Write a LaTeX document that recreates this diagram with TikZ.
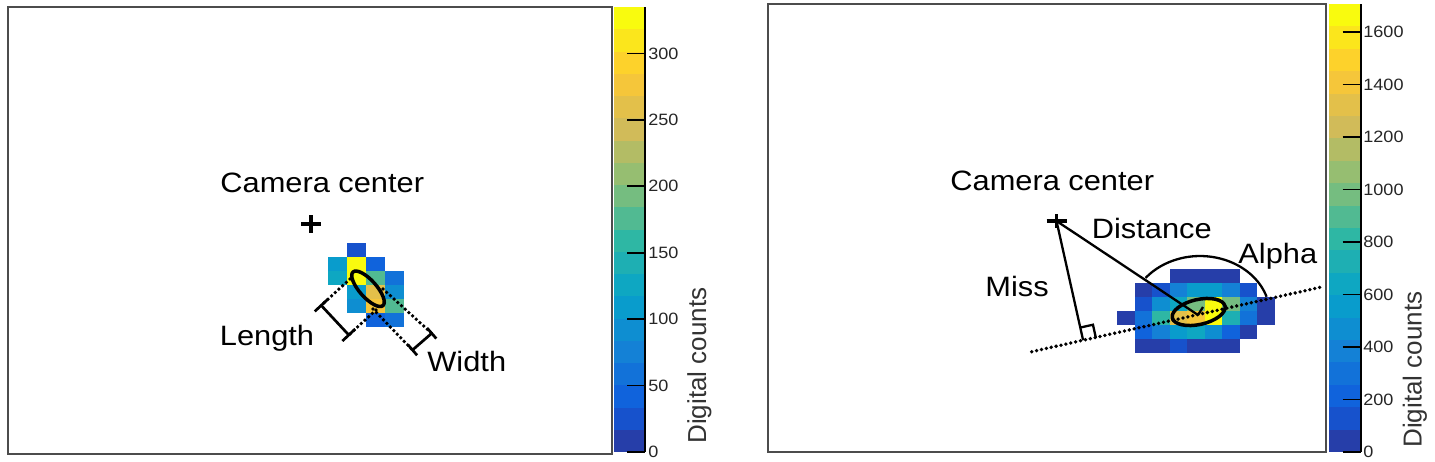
\documentclass[tikz,border=0pt]{standalone}
\usepackage{fontspec}
\setmainfont{Liberation Sans}
\usetikzlibrary{calc}
\definecolor{b0}{HTML}{263EA9}
\definecolor{b1}{HTML}{1752CC}
\definecolor{b2}{HTML}{1063DC}
\definecolor{b3}{HTML}{1272D9}
\definecolor{b4}{HTML}{1481D6}
\definecolor{b5}{HTML}{0E8ED1}
\definecolor{b6}{HTML}{099CCC}
\definecolor{b7}{HTML}{0EA7C2}
\definecolor{b8}{HTML}{1EAFB3}
\definecolor{b9}{HTML}{2EB7A4}
\definecolor{b10}{HTML}{51BA92}
\definecolor{b11}{HTML}{75BD80}
\definecolor{b12}{HTML}{96BE71}
\definecolor{b13}{HTML}{B3BC65}
\definecolor{b14}{HTML}{D1BB59}
\definecolor{b15}{HTML}{E3C04A}
\definecolor{b16}{HTML}{F5C63A}
\definecolor{b17}{HTML}{FDD22B}
\definecolor{b18}{HTML}{FBE61C}
\definecolor{b19}{HTML}{F9FB0E}
\newcommand{\wide}[1]{\scalebox{1.1}[1]{#1}}
\begin{document}
\begin{tikzpicture}[x=0.5pt,y=-0.5pt,
  frame/.style={draw=black!70, line width=0.8pt},
  lbl/.style={inner sep=0pt, anchor=base west, font=\fontsize{14pt}{16pt}\selectfont},
  ticklbl/.style={inner sep=0pt, anchor=west, text=black!85, font=\fontsize{8.2pt}{10pt}\selectfont},
  ztitle/.style={inner sep=0pt, anchor=base west, rotate=90, text=black!80, font=\fontsize{13pt}{15pt}\selectfont},
  tk/.style={line width=0.9pt},
  dots/.style={line width=1.9pt, dash pattern=on 0pt off 2.5pt, line cap=round},
  brk/.style={line width=1.35pt},
  ell/.style={line width=1.75pt},
  thinl/.style={line width=1.15pt},
  cross/.style={line width=1.9pt}]
\fill[white] (0,0) rectangle (1435,461);
\useasboundingbox (0,0) rectangle (1435,461);

% ================= LEFT PANEL =================
\draw[frame] (8,7) rectangle (612,454);
% colour bar
\foreach \i in {0,...,19}
  \fill[b\i] (614,{452-22.25*\i}) rectangle (645,{452-22.25*(\i+1)});
\draw[tk] (645,7) -- (645,452);
\foreach \v in {0,50,...,300}
  \draw[tk] (627,{452-1.3284*\v}) -- (645,{452-1.3284*\v});
\foreach \v in {0,50,...,300}
  \node[ticklbl] (ltl\v) at (648,{452-1.3284*\v}) {\wide{\v}};
\node[ztitle] (lzt) at (706,444) {Digital counts};

% pixels
\foreach \c/\r/\i in {1/0/1, 0/1/6, 1/1/19, 2/1/2, 0/2/7, 1/2/19, 2/2/10, 3/2/3,
                      1/3/6, 2/3/15, 3/3/5, 1/4/5, 2/4/16, 3/4/10, 2/5/2, 3/5/3}
  \fill[b\i] ({328.3+19*\c},{243.3+14*\r}) rectangle ++(19,14);

% camera centre
\coordinate (pL) at (311,224);
\draw[cross] ([xshift=-5pt]pL) -- ([xshift=5pt]pL);
\draw[cross] ([yshift=4.5pt]pL) -- ([yshift=-4.5pt]pL);
\node[lbl] (camL) at (220,192) {\wide{Camera center}};

% ellipse
\coordinate (LC) at (368,288.8);
\draw[ell, rotate around={-48.3:(LC)}] (LC) ellipse [x radius=11.25pt, y radius=4.25pt];

% length
\coordinate (lds1) at (350,279);
\coordinate (lds2) at (376,310);
\coordinate (lenT) at (321.2,305.4);
\coordinate (lenB) at (348.8,335);
\draw[dots] (lds1) -- (lenT);
\draw[dots] (lds2) -- (lenB);
\draw[brk] (lenT) -- (lenB);
\draw[brk] ($(lenT)!4.4pt!90:(lenB)$) -- ($(lenT)!4.4pt!-90:(lenB)$);
\draw[brk] ($(lenB)!4.4pt!90:(lenT)$) -- ($(lenB)!4.4pt!-90:(lenT)$);
\node[lbl] (lenL) at (219.5,345) {\wide{Length}};

% width
\coordinate (wds1) at (383,289);
\coordinate (wds2) at (373,309);
\coordinate (widT) at (431.7,333.3);
\coordinate (widB) at (412.5,350);
\draw[dots] (wds1) -- (widT);
\draw[dots] (wds2) -- (widB);
\draw[brk] (widT) -- (widB);
\draw[brk] ($(widT)!3.5pt!90:(widB)$) -- ($(widT)!3.5pt!-90:(widB)$);
\draw[brk] ($(widB)!3.5pt!90:(widT)$) -- ($(widB)!3.5pt!-90:(widT)$);
\node[lbl] (widL) at (427,371.5) {\wide{Width}};

% ================= RIGHT PANEL =================
\draw[frame] (768,4) rectangle (1326,452);
\foreach \i in {0,...,19}
  \fill[b\i] (1329,{452-22.4*\i}) rectangle (1361,{452-22.4*(\i+1)});
\draw[tk] (1361,4) -- (1361,452);
\foreach \v in {0,200,...,1600}
  \draw[tk] (1342.7,{452-0.26245*\v}) -- (1361,{452-0.26245*\v});
\foreach \v in {0,200,...,1600}
  \node[ticklbl] (rtl\v) at (1363,{452-0.26245*\v}) {\wide{\v}};
\node[ztitle] (rzt) at (1421.5,448) {Digital counts};

% pixels
\foreach \c/\r/\i in {3/0/0, 4/0/0, 5/0/0, 6/0/0,
  1/1/0, 2/1/1, 3/1/4, 4/1/6, 5/1/6, 6/1/4, 7/1/1,
  1/2/1, 2/2/5, 3/2/7, 4/2/11, 5/2/19, 6/2/11, 7/2/4, 8/2/0,
  0/3/0, 1/3/3, 2/3/9, 3/3/15, 4/3/16, 5/3/19, 6/3/8, 7/3/3, 8/3/0,
  1/4/2, 2/4/4, 3/4/6, 4/4/7, 5/4/5, 6/4/2, 7/4/0,
  1/5/0, 2/5/0, 3/5/1, 4/5/0, 5/5/0, 6/5/0}
  \fill[b\i] ({1117+17.5*\c},{269.3+13.9*\r}) rectangle ++(17.5,13.9);

% ellipse
\coordinate (RC) at (1198.7,312);
\draw[ell, rotate around={12.6:(RC)}] (RC) ellipse [x radius=13.5pt, y radius=6.25pt];

% axis line
\coordinate (dl1) at (1031.7,351.7);
\coordinate (dl2) at (1323,286.7);
\draw[dots] (dl1) -- (dl2);

% camera centre
\coordinate (pR) at (1056.5,221);
\draw[cross, line width=1.7pt] ([xshift=-5pt]pR) -- ([xshift=5pt]pR);
\draw[cross, line width=1.7pt] ([yshift=3.5pt]pR) -- ([yshift=-3.5pt]pR);
\node[lbl] (camR) at (950,190) {\wide{Camera center}};

% distance
\coordinate (ecR) at (1198,315);
\draw[thinl] (pR) -- (ecR);
\draw[thinl] (ecR) -- ++(5,-8);
\node[lbl] (distR) at (1091.5,238) {\wide{Distance}};

% miss
\coordinate (foot) at ($(dl1)!(pR)!(dl2)$);
\draw[thinl] (pR) -- (foot);
\coordinate (sq1) at ($(foot)!6.5pt!(dl2)$);
\coordinate (sq3) at ($(foot)!6.5pt!(pR)$);
\draw[thinl] (sq1) -- ($(sq1)+(sq3)-(foot)$) -- (sq3);
\node[lbl] (missR) at (985,296.7) {\wide{Miss}};

% alpha
\coordinate (arcS) at (1266.6,296.8);
\draw[thinl] (arcS) arc[start angle=18, end angle=141, x radius=35pt, y radius=29.5pt];
\node[lbl] (alphaR) at (1238,263.5) {\wide{Alpha}};
\end{tikzpicture}
\end{document}
